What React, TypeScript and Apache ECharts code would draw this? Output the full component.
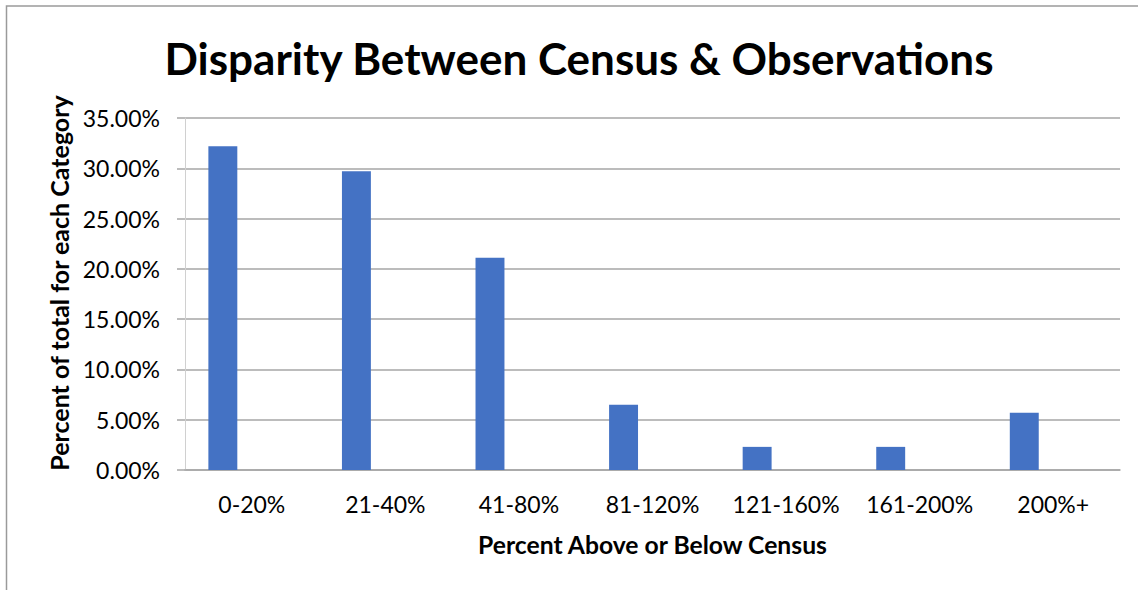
import React, { useEffect, useRef } from "react";
import * as echarts from "echarts";

const titleText = "Disparity Between Census & Observations";
const categories = ["0-20%", "21-40%", "41-80%", "81-120%", "121-160%", "161-200%", "200%+"];
const shareValues = [32.2, 29.7, 21.1, 6.5, 2.3, 2.3, 5.7];
const emptySeriesA = [null, null, null, null, null, null, null];
const emptySeriesB = [null, null, null, null, null, null, null];
const yTickMax = 35;
const yTickStep = 5;
const xAxisTitle = "Percent Above or Below Census";
const yAxisTitle = "Percent of total for each Category";

export default function App() {
  const ref = useRef<HTMLDivElement>(null);
  useEffect(() => {
    if (!ref.current) return;
    const chart = echarts.init(ref.current, undefined, { renderer: "svg" });
    const font = "Lato";
    chart.setOption({
      animation: false,
      backgroundColor: "#ffffff",
      graphic: [
        {
          type: "polyline",
          shape: { points: [[6.5, 600], [6.5, 6], [1140, 6]] },
          style: { stroke: "#9a9a9a", lineWidth: 1.5, fill: "none" },
          silent: true,
        },
        {
          type: "text",
          x: 579,
          y: 58,
          style: {
            text: titleText,
            fontFamily: font,
            fontWeight: "bold",
            fontSize: 44,
            fill: "#000000",
            align: "center",
            verticalAlign: "middle",
          },
        },
      ],
      grid: { left: 185, right: 18, top: 118, bottom: 120, containLabel: false },
      xAxis: {
        type: "category",
        data: categories,
        name: xAxisTitle,
        nameLocation: "middle",
        nameGap: 62,
        nameTextStyle: { fontFamily: font, fontWeight: "bold", fontSize: 24.7, color: "#000000" },
        axisLine: { show: true, lineStyle: { color: "#a6a6a6", width: 1.5 } },
        axisTick: { show: false },
        axisLabel: { fontFamily: font, fontSize: 23, color: "#000000", margin: 22, interval: 0 },
      },
      yAxis: {
        type: "value",
        min: 0,
        max: yTickMax,
        interval: yTickStep,
        name: yAxisTitle,
        nameLocation: "middle",
        nameGap: 113,
        nameRotate: 90,
        nameTextStyle: { fontFamily: font, fontWeight: "bold", fontSize: 25, color: "#000000", padding: [0, 0, 0, 22] },
        axisLine: { show: true, lineStyle: { color: "#d0d0d0", width: 1 } },
        axisTick: { show: true, length: 8, lineStyle: { color: "#a6a6a6", width: 1.5 } },
        splitLine: { show: true, lineStyle: { color: "#a6a6a6", width: 1.5 } },
        axisLabel: {
          fontFamily: font,
          fontSize: 23,
          color: "#000000",
          margin: 25,
          formatter: (v: number) => v.toFixed(2) + "%",
        },
      },
      series: [
        {
          type: "bar",
          name: "Share",
          data: shareValues,
          itemStyle: { color: "#4472C4" },
          barGap: "0%",
          barCategoryGap: "35%",
        },
        { type: "bar", name: "B", data: emptySeriesA, itemStyle: { color: "#ED7D31" } },
        { type: "bar", name: "C", data: emptySeriesB, itemStyle: { color: "#A5A5A5" } },
      ],
    });
    return () => chart.dispose();
  }, []);
  return (
    <div style={{ position: "fixed", left: 0, top: 0, width: 1138, height: 590, background: "#fff" }}>
      <div ref={ref} style={{ width: 1138, height: 590 }} />
    </div>
  );
}
